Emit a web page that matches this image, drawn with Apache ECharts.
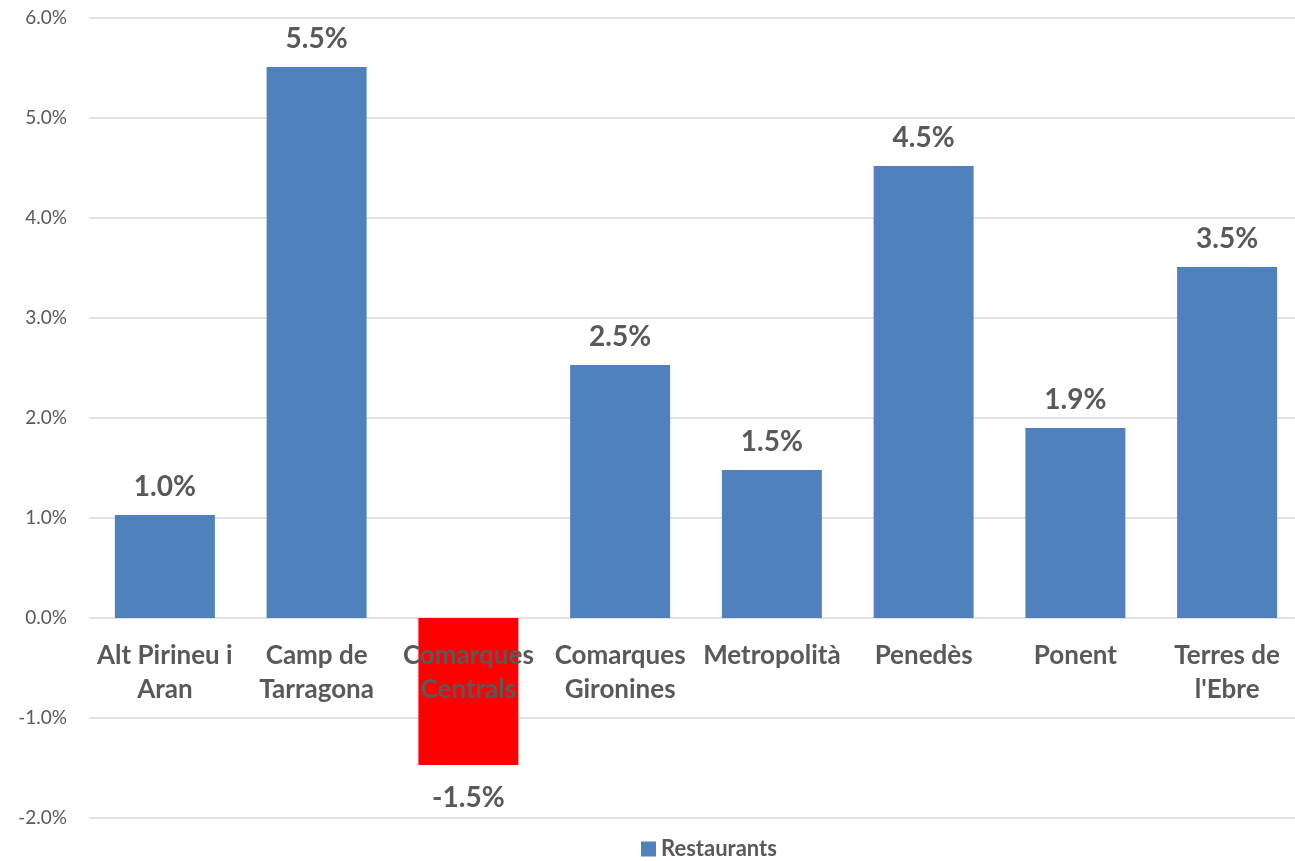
<!DOCTYPE html>
<html>
<head>
<meta charset="utf-8">
<script src="https://cdn.jsdelivr.net/npm/echarts@6/dist/echarts.min.js"></script>
<style>
  html, body { margin: 0; padding: 0; background: #fff; }
  #chart { width: 1295px; height: 861px; }
</style>
</head>
<body>
<div id="chart"></div>
<script>
const categories = ['Alt Pirineu i\nAran', 'Camp de\nTarragona', 'Comarques\nCentrals', 'Comarques\nGironines', 'Metropolità', 'Penedès', 'Ponent', "Terres de\nl'Ebre"];
const restaurants = [1.03, 5.51, -1.47, 2.53, 1.48, 4.52, 1.9, 3.51];
const yTicks = [-2, -1, 0, 1, 2, 3, 4, 5, 6];

const font = 'Lato, "Liberation Sans", sans-serif';
const textColor = '#595959';

const gridTop = 18, gridBottom = 43, chartHeight = 861;
const yMin = yTicks[0], yMax = yTicks[yTicks.length - 1];
const plotHeight = chartHeight - gridTop - gridBottom;
// move the category axis up to the zero line
const zeroOffset = -(0 - yMin) / (yMax - yMin) * plotHeight;

const chart = echarts.init(document.getElementById('chart'));
const option = {
    animation: false,
    textStyle: { fontFamily: font },
    grid: {
        top: gridTop,
        right: -8,
        bottom: gridBottom,
        left: 89,
        containLabel: false,
        outerBoundsMode: 'none'
    },
    legend: {
        bottom: -4,
        left: 636,
        icon: 'rect',
        itemWidth: 15,
        itemHeight: 15,
        itemGap: 8,
        formatter: '{b|{name}}',
        textStyle: {
            color: textColor,
            fontSize: 22,
            fontFamily: font,
            rich: { b: { color: textColor, fontSize: 22, fontWeight: 'bold', fontFamily: font } }
        }
    },
    xAxis: {
        type: 'category',
        data: categories,
        z: 10,
        position: 'bottom',
        offset: zeroOffset,
        axisLine: { show: false, onZero: false },
        axisTick: { show: false },
        axisLabel: {
            color: textColor,
            fontSize: 26,
            fontWeight: 'bold',
            fontFamily: font,
            lineHeight: 34,
            margin: 21,
            interval: 0
        }
    },
    yAxis: {
        type: 'value',
        min: yMin,
        max: yMax,
        interval: 1,
        axisLine: { show: false },
        axisTick: { show: false },
        axisLabel: {
            color: textColor,
            fontSize: 19,
            fontFamily: font,
            margin: 22,
            formatter: v => v.toFixed(1) + '%'
        },
        splitLine: { lineStyle: { color: '#d9d9d9', width: 1.5 } }
    },
    series: [{
        name: 'Restaurants',
        type: 'bar',
        barWidth: 100,
        itemStyle: { color: '#4f81bd' },
        label: {
            show: true,
            position: 'top',
            distance: 14,
            color: textColor,
            fontSize: 28,
            fontWeight: 'bold',
            fontFamily: font,
            formatter: p => p.value.toFixed(1) + '%'
        },
        data: restaurants.map(v => v < 0
            ? { value: v, itemStyle: { color: '#ff0000' }, label: { position: 'bottom', distance: 19 } }
            : v)
    }]
};

chart.setOption(option);
</script>
</body>
</html>
